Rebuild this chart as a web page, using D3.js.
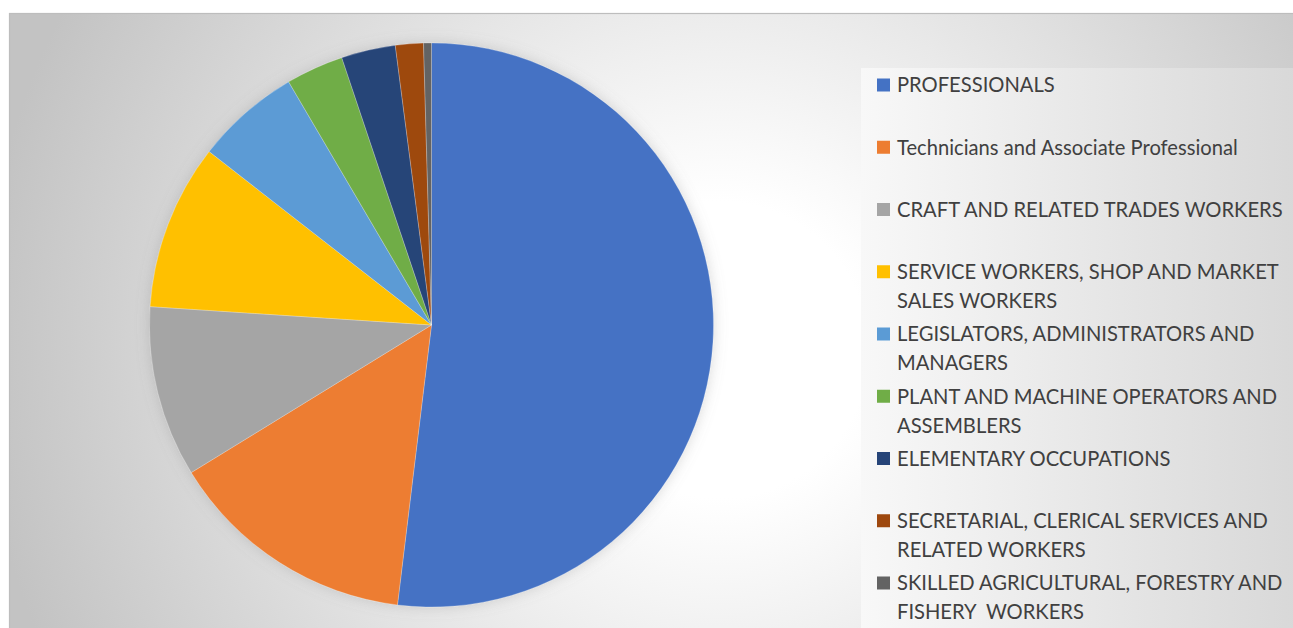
<!DOCTYPE html>
<html>
<head>
<meta charset="utf-8">
<script src="https://cdn.jsdelivr.net/npm/d3@7"></script>
<style>
  html, body { margin: 0; padding: 0; background: #ffffff; }
  svg { display: block; }
</style>
</head>
<body>
<svg id="chart" width="1293" height="628"></svg>
<script>
// ---- data ----
const categories = [
  "PROFESSIONALS",
  "Technicians and Associate Professional",
  "CRAFT AND RELATED TRADES WORKERS",
  "SERVICE WORKERS, SHOP AND MARKET SALES WORKERS",
  "LEGISLATORS, ADMINISTRATORS AND MANAGERS",
  "PLANT AND MACHINE OPERATORS AND ASSEMBLERS",
  "ELEMENTARY OCCUPATIONS",
  "SECRETARIAL, CLERICAL SERVICES AND RELATED WORKERS",
  "SKILLED AGRICULTURAL, FORESTRY AND FISHERY  WORKERS"
];
const legendLines = [
  ["PROFESSIONALS"],
  ["Technicians and Associate Professional"],
  ["CRAFT AND RELATED TRADES WORKERS"],
  ["SERVICE WORKERS, SHOP AND MARKET", "SALES WORKERS"],
  ["LEGISLATORS, ADMINISTRATORS AND", "MANAGERS"],
  ["PLANT AND MACHINE OPERATORS AND", "ASSEMBLERS"],
  ["ELEMENTARY OCCUPATIONS"],
  ["SECRETARIAL, CLERICAL SERVICES AND", "RELATED WORKERS"],
  ["SKILLED AGRICULTURAL, FORESTRY AND", "FISHERY\u00a0 WORKERS"]
];
const values = [51.9, 14.3, 9.8, 9.5, 6.0, 3.3, 3.1, 1.6, 0.45];
const colors = ["#4472C4", "#ED7D31", "#A5A5A5", "#FFC000", "#5B9BD5", "#70AD47", "#264478", "#9E480E", "#636363"];

// ---- layout ----
const W = 1293, H = 628;
const svg = d3.select("#chart");
const defs = svg.append("defs");

// chart area radial gradient
const bg = defs.append("radialGradient").attr("id", "bgGrad")
  .attr("gradientUnits", "userSpaceOnUse")
  .attr("cx", 720).attr("cy", 350).attr("r", 740);
bg.append("stop").attr("offset", 0).attr("stop-color", "#ffffff");
bg.append("stop").attr("offset", 0.2).attr("stop-color", "#ffffff");
bg.append("stop").attr("offset", 1).attr("stop-color", "#c3c3c3");

// legend gradient
const lg = defs.append("linearGradient").attr("id", "legGrad")
  .attr("x1", 0).attr("x2", 1).attr("y1", 0).attr("y2", 0);
lg.append("stop").attr("offset", 0).attr("stop-color", "#f8f8f8");
lg.append("stop").attr("offset", 1).attr("stop-color", "#d7d7d7");

// soft shadow around pie
const f = defs.append("filter").attr("id", "pieShadow")
  .attr("x", "-20%").attr("y", "-20%").attr("width", "140%").attr("height", "140%");
f.append("feGaussianBlur").attr("in", "SourceAlpha").attr("stdDeviation", 7).attr("result", "b");
f.append("feFlood").attr("flood-color", "#7f7f7f").attr("flood-opacity", 0.3).attr("result", "c");
f.append("feComposite").attr("in", "c").attr("in2", "b").attr("operator", "in").attr("result", "s");
const fm = f.append("feMerge");
fm.append("feMergeNode").attr("in", "s");
fm.append("feMergeNode").attr("in", "SourceGraphic");

// chart area
svg.append("rect")
  .attr("x", 9.5).attr("y", 13.5).attr("width", W + 10).attr("height", H + 10)
  .attr("fill", "url(#bgGrad)")
  .attr("stroke", "#bdbdbd").attr("stroke-width", 1.2);

// pie
const cx = 431.5, cy = 325, R = 282;
const pie = d3.pie().sort(null).value(d => d)(values);
const arc = d3.arc().innerRadius(0).outerRadius(R);
const g = svg.append("g").attr("transform", `translate(${cx},${cy})`)
  .attr("filter", "url(#pieShadow)");
g.selectAll("path").data(pie).join("path")
  .attr("d", arc)
  .attr("fill", (d, i) => colors[i])
  .attr("stroke", "#ffffff").attr("stroke-width", 0.4).attr("stroke-opacity", 0.6);

// legend
svg.append("rect")
  .attr("x", 861).attr("y", 68).attr("width", W - 861 + 20).attr("height", H)
  .attr("fill", "url(#legGrad)");

const fontFam = "Lato, 'Open Sans', sans-serif";
// fit font size so that the widest capital label fits the legend width
const probe = svg.append("text").attr("font-family", fontFam).attr("font-size", 20)
  .text(legendLines[2][0]);
const measured = probe.node().getComputedTextLength();
probe.remove();
const fs = 20 * 386 / measured;

const yScale = d3.scaleLinear().domain([0, 1]).range([85, 85 + 62.25]);
const lineH = 29;

const items = svg.append("g").selectAll("g").data(legendLines).join("g");
items.append("rect")
  .attr("x", 877).attr("y", (d, i) => yScale(i) - 6.5)
  .attr("width", 13).attr("height", 13)
  .attr("fill", (d, i) => colors[i]);
items.each(function(lines, i) {
  const t = d3.select(this).append("text")
    .attr("font-family", fontFam).attr("font-size", fs)
    .attr("fill", "#404040");
  lines.forEach((ln, k) => {
    t.append("tspan").attr("x", 897).attr("y", yScale(i) + k * lineH + fs * 0.36)
      .attr("xml:space", "preserve")
      .text(ln);
  });
});
</script>
</body>
</html>
